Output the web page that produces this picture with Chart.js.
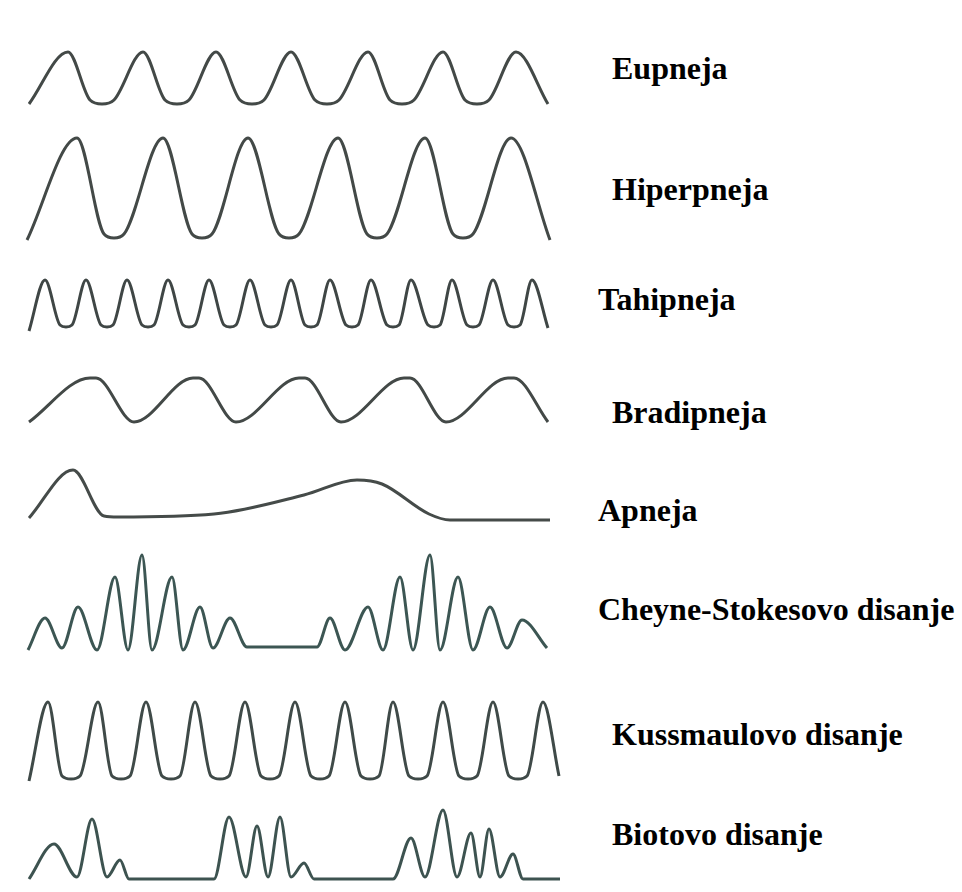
<!DOCTYPE html>
<html>
<head>
<meta charset="utf-8">
<script src="https://cdn.jsdelivr.net/npm/chart.js@4/dist/chart.umd.min.js"></script>
<style>
  body { margin: 0; background: #fff; }
  #wrap { position: relative; width: 962px; height: 892px; }
  #waves { position: absolute; left: 0; top: 0; }
  .lbl {
    position: absolute;
    font-family: "Liberation Serif", "Times New Roman", serif;
    font-weight: bold;
    font-size: 32px;
    line-height: 32px;
    color: #000;
    white-space: nowrap;
  }
</style>
</head>
<body>
<div id="wrap">
  <canvas id="waves" width="575" height="892"></canvas>
</div>
<script>
// breathing patterns: [time, level] points (level grows downward)
const names = [
  "Eupneja",
  "Hiperpneja",
  "Tahipneja",
  "Bradipneja",
  "Apneja",
  "Cheyne-Stokesovo disanje",
  "Kussmaulovo disanje",
  "Biotovo disanje"
];

const eupneja = [[29,104],[68,52],[90,100],[102,104],[114,100],[143,52],[165,100],[177,104],[189,100],[216,52],[240,100],[252,104],[264,100],[291,52],[315,100],[327,104],[339,100],[368,52],[390,100],[402,104],[414,100],[443,52],[465,100],[477,104],[489,100],[516,52],[548,104]];

const hiperpneja = [[27,240],[77,138],[104,234],[114,238],[124,234],[163,138],[192,234],[202,238],[212,234],[248,138],[279,234],[289,238],[299,234],[338,138],[367,234],[377,238],[387,234],[425,138],[453,234],[463,238],[473,234],[511,138],[550,240]];

const tahipneja = [[29,331],[45,280],[60,325],[66,327],[72,325],[86,280],[101,325],[107,327],[113,325],[127,280],[142,325],[148,327],[154,325],[168,280],[183,325],[189,327],[195,325],[209,280],[224,325],[230,327],[236,325],[250,280],[265,325],[271,327],[277,325],[291,280],[305,325],[311,327],[317,325],[330,280],[346,325],[352,327],[358,325],[371,280],[387,325],[393,327],[399,325],[411,280],[428,325],[434,327],[440,325],[452,280],[467,325],[473,327],[479,325],[493,280],[508,325],[514,327],[520,325],[532,280],[548,328]];

const bradipneja = [[29,422],[90,378],[96,378],[134,422],[193,378],[199,378],[236,422],[299,378],[305,378],[341,422],[404,378],[410,378],[446,422],[508,378],[514,378],[548,422]];

const apneja = [[29,518],[73,470],[104,516],[118,517],[214,514],[304,495],[357,480],[382,484],[429,514],[450,520],[550,520]];

const cheyneStokes = [[28,650],[45,618],[62,648],[78,607],[97,650],[115,577],[128,650],[142,555],[152,650],[172,577],[183,650],[200,607],[213,648],[230,618],[247,647],[317,647],[330,618],[345,650],[368,607],[383,650],[400,577],[413,650],[430,555],[440,650],[458,577],[473,650],[490,607],[507,648],[522,620],[547,648]];

const kussmaul = [[29,781],[48,702],[62,776],[71,779],[80,776],[98,702],[112,776],[121,779],[130,776],[146,702],[162,776],[171,779],[180,776],[195,702],[211,776],[220,779],[229,776],[245,702],[261,776],[270,779],[279,776],[295,702],[311,776],[320,779],[329,776],[345,702],[361,776],[370,779],[379,776],[393,702],[409,776],[418,779],[427,776],[443,702],[459,776],[468,779],[477,776],[493,702],[509,776],[518,779],[527,776],[543,702],[559,776]];

const biot = [[29,879],[54,844],[77,877],[92,819],[107,877],[120,860],[129,879],[214,879],[229,817],[246,877],[257,826],[268,877],[280,817],[291,877],[304,863],[314,879],[393,879],[411,838],[425,877],[443,810],[457,877],[471,833],[480,877],[489,829],[500,877],[513,854],[523,879],[560,879]];

const traces = [eupneja, hiperpneja, tahipneja, bradipneja, apneja, cheyneStokes, kussmaul, biot];
const lineColors = ["#434947", "#434947", "#3f4645", "#434947", "#454b49", "#3c5653", "#3f4a48", "#3d5350"];

// label placement (left, baseline)
const labelPos = [[612, 79], [612, 200], [598, 310], [612, 423], [598, 521], [598, 620], [612, 745], [612, 845]];

const wrap = document.getElementById("wrap");
names.forEach(function (n, i) {
  const d = document.createElement("div");
  d.className = "lbl";
  d.textContent = n;
  d.style.left = labelPos[i][0] + "px";
  d.style.top = (labelPos[i][1] - 27) + "px";
  wrap.appendChild(d);
});

const ctx = document.getElementById("waves").getContext("2d");
new Chart(ctx, {
  type: "line",
  data: {
    datasets: traces.map(function (t, i) {
      return {
        label: names[i],
        data: t.map(function (p) { return { x: p[0], y: p[1] }; }),
        borderColor: lineColors[i],
        borderWidth: 3,
        pointRadius: 0,
        fill: false,
        cubicInterpolationMode: "monotone",
        clip: false
      };
    })
  },
  options: {
    responsive: false,
    animation: false,
    layout: { padding: 0 },
    plugins: { legend: { display: false }, tooltip: { enabled: false } },
    scales: {
      x: { type: "linear", min: 0, max: 575, display: false },
      y: { type: "linear", min: 0, max: 892, reverse: true, display: false }
    }
  }
});
</script>
</body>
</html>
